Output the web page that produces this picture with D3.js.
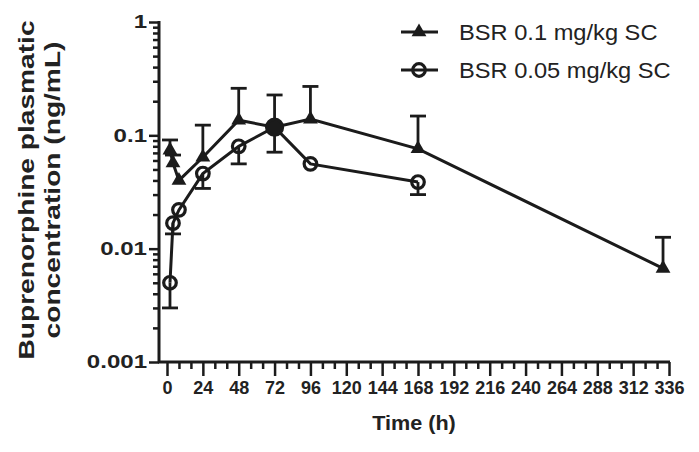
<!DOCTYPE html>
<html>
<head>
<meta charset="utf-8">
<script src="https://cdn.jsdelivr.net/npm/d3@7"></script>
<style>
  html, body { margin: 0; padding: 0; background: #fff; }
  svg { display: block; font-family: "Liberation Sans", Arial, sans-serif; }
</style>
</head>
<body>
<svg id="chart" width="699" height="452"></svg>
<script>
// ---- data ----
const seriesNames = ["BSR 0.1 mg/kg SC", "BSR 0.05 mg/kg SC"];
const timesHigh = [2, 4, 8, 24, 48, 72, 96, 168, 332];
const concHigh = [0.074, 0.057, 0.040, 0.064, 0.136, 0.118, 0.139, 0.076, 0.0067];
const upperHigh = [0.091, 0.067, null, 0.123, 0.26, 0.227, 0.27, 0.148, 0.0126];
const timesLow = [2, 4, 8, 24, 48, 72, 96, 168];
const concLow = [0.005, 0.0168, 0.022, 0.046, 0.080, 0.118, 0.056, 0.0387];
const lowerLow = [0.003, 0.0135, null, 0.034, 0.056, 0.071, null, 0.030];
const xTickValues = [0, 24, 48, 72, 96, 120, 144, 168, 192, 216, 240, 264, 288, 312, 336];
const yTickValues = [0.001, 0.01, 0.1, 1];
const yTickLabels = ["0.001", "0.01", "0.1", "1"];

const svg = d3.select("#chart");
const ink = "#1b1b1b";
const textInk = "#222";
const x = d3.scaleLinear().domain([0, 336]).range([167, 669]);
const y = d3.scaleLog().domain([0.001, 1]).range([362, 22]);
const axisX0 = 159;

function stretch(sel, f) {
  sel.each(function () {
    const L = this.getComputedTextLength();
    d3.select(this).attr("textLength", L * f).attr("lengthAdjust", "spacingAndGlyphs");
  });
}

// ---- y axis ----
const yMinor = [];
for (let e = -3; e < 0; e++) for (let k = 2; k <= 9; k++) yMinor.push(k * Math.pow(10, e));
const gy = svg.append("g").attr("transform", `translate(${axisX0},0)`);
gy.call(d3.axisLeft(y).tickValues(yMinor).tickSize(6).tickFormat(""));
gy.select(".domain").remove();
const gyMaj = svg.append("g").attr("transform", `translate(${axisX0},0)`);
gyMaj.call(d3.axisLeft(y).tickValues(yTickValues).tickSize(10).tickPadding(2)
  .tickFormat((d, i) => yTickLabels[i]));
gyMaj.select(".domain").remove();
gyMaj.selectAll("text").attr("font-size", 18.5).attr("font-weight", "bold").attr("fill", textInk)
  .attr("font-family", "Liberation Sans, Arial, sans-serif");
stretch(gyMaj.selectAll("text"), 1.3);
svg.append("line").attr("x1", axisX0).attr("x2", axisX0).attr("y1", y(1) - 1).attr("y2", 363)
  .attr("stroke", ink).attr("stroke-width", 3);

// ---- x axis ----
const xMinor = d3.range(0, 337, 8).filter(v => v % 24 !== 0);
const gx = svg.append("g").attr("transform", `translate(0,362)`);
gx.call(d3.axisBottom(x).tickValues(xMinor).tickSize(7).tickFormat(""));
gx.select(".domain").remove();
const gxMaj = svg.append("g").attr("transform", `translate(0,362)`);
gxMaj.call(d3.axisBottom(x).tickValues(xTickValues).tickSize(14).tickPadding(5));
gxMaj.select(".domain").remove();
gxMaj.selectAll("text").attr("font-size", 18).attr("font-weight", "bold").attr("fill", textInk)
  .attr("font-family", "Liberation Sans, Arial, sans-serif");
svg.selectAll(".tick line").attr("stroke", ink).attr("stroke-width", 2.5);
svg.append("line").attr("x1", axisX0 - 1).attr("x2", x(336) + 1).attr("y1", 362).attr("y2", 362)
  .attr("stroke", ink).attr("stroke-width", 3);

// ---- axis titles ----
const xt = svg.append("text").attr("x", 414).attr("y", 430).attr("text-anchor", "middle")
  .attr("font-size", 20).attr("font-weight", "bold").attr("fill", textInk).text("Time (h)");
stretch(xt, 1.08);
const yt = svg.append("g").attr("transform", "translate(0,190) rotate(-90)")
  .attr("font-size", 22.5).attr("font-weight", "bold").attr("fill", textInk);
const yt1 = yt.append("text").attr("x", 0).attr("y", 34).attr("text-anchor", "middle").text("Buprenorphine plasmatic");
const yt2 = yt.append("text").attr("x", 0).attr("y", 60).attr("text-anchor", "middle").text("concentration (ng/mL)");
stretch(yt1, 1.25);
stretch(yt2, 1.25);

// ---- series ----
const high = timesHigh.map((t, i) => ({ t, v: concHigh[i], e: upperHigh[i] }));
const low = timesLow.map((t, i) => ({ t, v: concLow[i], e: lowerLow[i] }));
const line = d3.line().x(d => x(d.t)).y(d => y(d.v));
const capW = 8;

function errorBars(data) {
  const g = svg.append("g").attr("stroke", ink).attr("stroke-width", 2.8);
  data.filter(d => d.e != null).forEach(d => {
    g.append("line").attr("x1", x(d.t)).attr("x2", x(d.t)).attr("y1", y(d.v)).attr("y2", y(d.e));
    g.append("line").attr("x1", x(d.t) - capW).attr("x2", x(d.t) + capW).attr("y1", y(d.e)).attr("y2", y(d.e));
  });
}
errorBars(high);
errorBars(low);

svg.append("path").datum(high).attr("d", line).attr("fill", "none").attr("stroke", ink).attr("stroke-width", 3);
svg.append("path").datum(low).attr("d", line).attr("fill", "none").attr("stroke", ink).attr("stroke-width", 3);

const tri = d3.symbol().type(d3.symbolTriangle).size(95);
svg.append("g").selectAll("path").data(high).join("path")
  .attr("d", tri).attr("transform", d => `translate(${x(d.t)},${y(d.v)})`).attr("fill", ink);
// where both series coincide, the overlapping markers merge into a solid disk
const overlaps = d => high.some(h => h.t === d.t && Math.abs(h.v - d.v) < 1e-9);
svg.append("g").selectAll("circle").data(low).join("circle")
  .attr("cx", d => x(d.t)).attr("cy", d => y(d.v))
  .attr("r", d => overlaps(d) ? 8 : 6.3)
  .attr("fill", d => overlaps(d) ? ink : "none").attr("stroke", ink).attr("stroke-width", 3.2);

// ---- legend ----
const legend = svg.append("g");
[0, 1].forEach(i => {
  const ly = 32 + i * 38;
  legend.append("line").attr("x1", 401).attr("x2", 438).attr("y1", ly).attr("y2", ly)
    .attr("stroke", ink).attr("stroke-width", 3);
  if (i === 0) {
    legend.append("path").attr("d", tri).attr("transform", `translate(419,${ly})`).attr("fill", ink);
  } else {
    legend.append("circle").attr("cx", 419).attr("cy", ly).attr("r", 6.3)
      .attr("fill", "none").attr("stroke", ink).attr("stroke-width", 3.2);
  }
  const lt = legend.append("text").attr("x", 459).attr("y", ly + 7.5).attr("font-size", 21.5)
    .attr("fill", textInk).text(seriesNames[i]);
  stretch(lt, 1.1);
});
</script>
</body>
</html>
